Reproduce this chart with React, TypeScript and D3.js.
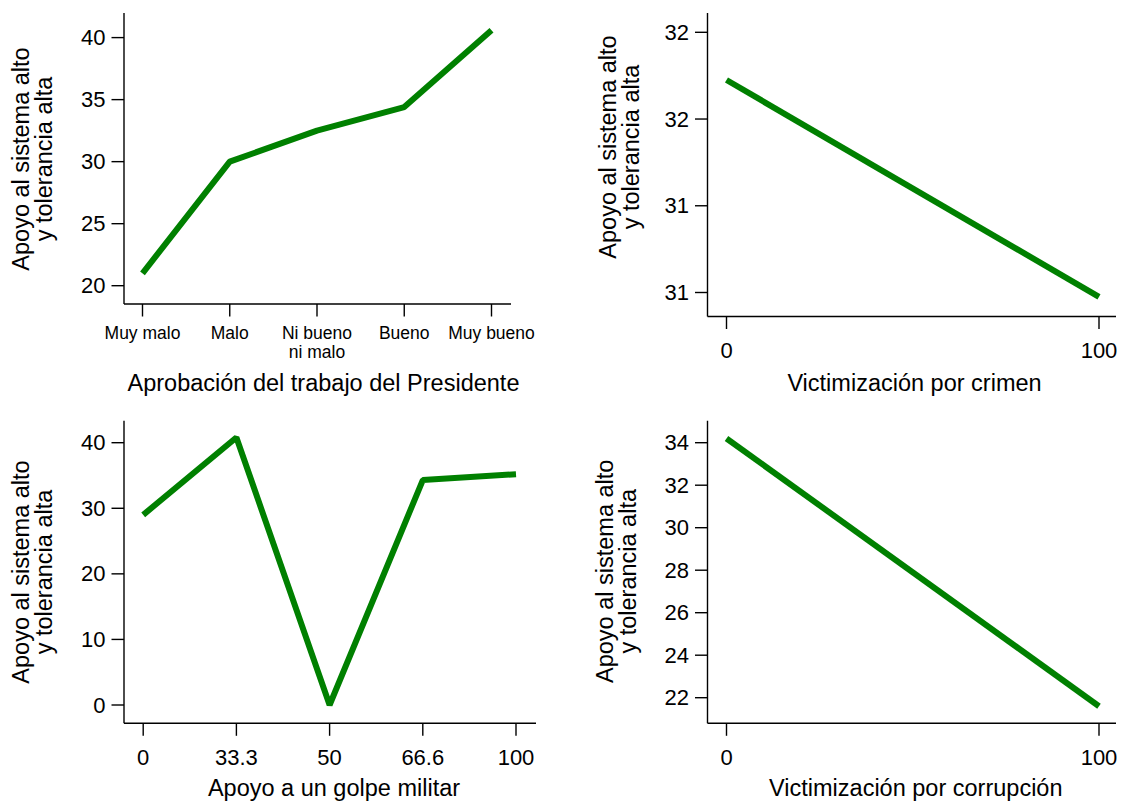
import React from "react";
import * as d3 from "d3";

// ---- data ----
const presCategories = ["Muy malo", "Malo", "Ni bueno|ni malo", "Bueno", "Muy bueno"];
const presValues = [21.0, 30.0, 32.5, 34.4, 40.6];
const presTicks = [20, 25, 30, 35, 40];

const crimeX = [0, 100];
const crimeValues = [31.69, 31.19];
const crimeYTicks = [31.2, 31.4, 31.6, 31.8];
const crimeXTicks = [0, 100];

const golpeCategories = ["0", "33.3", "50", "66.6", "100"];
const golpeValues = [29.0, 40.8, 0.0, 34.3, 35.2];
const golpeTicks = [0, 10, 20, 30, 40];

const corrX = [0, 100];
const corrValues = [34.2, 21.6];
const corrYTicks = [22, 24, 26, 28, 30, 32, 34];
const corrXTicks = [0, 100];

const yTitleLines = ["Apoyo al sistema alto", "y tolerancia alta"];

// ---- style ----
const FONT = "'Liberation Sans', Arial, Helvetica, sans-serif";
const LINE_COLOR = "#008000";
const INK = "#000";
const TITLE_SIZE = 23.5;

type Panel = {
  axisX: number;
  axisTop: number;
  axisY: number;
  axisRight: number;
  xScale: (v: any) => number;
  yScale: d3.ScaleLinear<number, number>;
  yTicks: number[];
  yFormat: (v: number) => string;
  xTicks: any[];
  xLabel: (v: any) => string[];
  xLabelSize: number;
  xLabelY: number;
  xTitle: string;
  xTitleX: number;
  xTitleY: number;
  yTitleBaseX: number;
  yTitleCY: number;
  points: [any, number][];
};

function PanelView({ p }: { p: Panel }) {
  const line = d3
    .line<[any, number]>()
    .x((d) => p.xScale(d[0]))
    .y((d) => p.yScale(d[1]));
  return (
    <g>
      {/* axes */}
      <line x1={p.axisX} x2={p.axisX} y1={p.axisTop} y2={p.axisY} stroke={INK} strokeWidth={1.4} />
      <line x1={p.axisX} x2={p.axisRight} y1={p.axisY} y2={p.axisY} stroke={INK} strokeWidth={1.4} />
      {/* y ticks */}
      {p.yTicks.map((t) => {
        const y = p.yScale(t);
        return (
          <g key={"y" + t}>
            <line x1={p.axisX - 12.5} x2={p.axisX} y1={y} y2={y} stroke={INK} strokeWidth={1.4} />
            <text
              x={p.axisX - 18.5}
              y={y}
              textAnchor="end"
              dominantBaseline="central"
              fontSize={22}
              fontFamily={FONT}
              fill={INK}
            >
              {p.yFormat(t)}
            </text>
          </g>
        );
      })}
      {/* x ticks */}
      {p.xTicks.map((t) => {
        const x = p.xScale(t);
        const lines = p.xLabel(t);
        return (
          <g key={"x" + t}>
            <line x1={x} x2={x} y1={p.axisY} y2={p.axisY + 12.5} stroke={INK} strokeWidth={1.4} />
            <text x={x} textAnchor="middle" fontSize={p.xLabelSize} fontFamily={FONT} fill={INK}>
              {lines.map((s, i) => (
                <tspan key={i} x={x} y={p.xLabelY + i * p.xLabelSize * 1.1} dominantBaseline="central">
                  {s}
                </tspan>
              ))}
            </text>
          </g>
        );
      })}
      {/* series */}
      <path
        d={line(p.points) || ""}
        fill="none"
        stroke={LINE_COLOR}
        strokeWidth={6}
        strokeLinejoin="bevel"
        strokeLinecap="butt"
      />
      {/* x title */}
      <text
        x={p.xTitleX}
        y={p.xTitleY}
        textAnchor="middle"
        dominantBaseline="central"
        fontSize={TITLE_SIZE}
        fontFamily={FONT}
        fill={INK}
      >
        {p.xTitle}
      </text>
      {/* y title */}
      {yTitleLines.map((s, i) => (
        <text
          key={i}
          transform={`translate(${p.yTitleBaseX + i * 23},${p.yTitleCY}) rotate(-90)`}
          textAnchor="middle"
          fontSize={TITLE_SIZE}
          fontFamily={FONT}
          fill={INK}
        >
          {s}
        </text>
      ))}
    </g>
  );
}

export default function App() {
  const fmt0 = d3.format(".0f");

  const presX = d3.scalePoint<string>().domain(presCategories).range([142.5, 491.5]);
  const presY = d3.scaleLinear().domain([20, 40]).range([285.7, 37.6]);

  const crimeXS = d3.scaleLinear().domain([0, 100]).range([726.5, 1099]);
  const crimeYS = d3.scaleLinear().domain([31.2, 31.8]).range([292.5, 32.3]);

  const golpeX = d3.scalePoint<string>().domain(golpeCategories).range([143.2, 516]);
  const golpeY = d3.scaleLinear().domain([0, 40]).range([705, 442.7]);

  const corrXS = d3.scaleLinear().domain([0, 100]).range([726.5, 1099]);
  const corrYS = d3.scaleLinear().domain([22, 34]).range([697.7, 442.7]);

  const panels: Panel[] = [
    {
      axisX: 124,
      axisTop: 13,
      axisY: 304,
      axisRight: 511,
      xScale: (v) => presX(v) as number,
      yScale: presY,
      yTicks: presTicks,
      yFormat: fmt0,
      xTicks: presCategories,
      xLabel: (v) => String(v).split("|"),
      xLabelSize: 17.5,
      xLabelY: 333,
      xTitle: "Aprobación del trabajo del Presidente",
      xTitleX: 323.5,
      xTitleY: 382.7,
      yTitleBaseX: 29,
      yTitleCY: 159,
      points: presCategories.map((c, i) => [c, presValues[i]] as [any, number]),
    },
    {
      axisX: 707.5,
      axisTop: 13,
      axisY: 316.5,
      axisRight: 1116,
      xScale: (v) => crimeXS(v),
      yScale: crimeYS,
      yTicks: crimeYTicks,
      yFormat: fmt0,
      xTicks: crimeXTicks,
      xLabel: (v) => [String(v)],
      xLabelSize: 22,
      xLabelY: 350.5,
      xTitle: "Victimización por crimen",
      xTitleX: 914.5,
      xTitleY: 383.3,
      yTitleBaseX: 616,
      yTitleCY: 147,
      points: crimeX.map((x, i) => [x, crimeValues[i]] as [any, number]),
    },
    {
      axisX: 124,
      axisTop: 420.7,
      axisY: 723.3,
      axisRight: 536,
      xScale: (v) => golpeX(v) as number,
      yScale: golpeY,
      yTicks: golpeTicks,
      yFormat: fmt0,
      xTicks: golpeCategories,
      xLabel: (v) => [String(v)],
      xLabelSize: 22,
      xLabelY: 757,
      xTitle: "Apoyo a un golpe militar",
      xTitleX: 334,
      xTitleY: 788.3,
      yTitleBaseX: 29,
      yTitleCY: 572,
      points: golpeCategories.map((c, i) => [c, golpeValues[i]] as [any, number]),
    },
    {
      axisX: 707.5,
      axisTop: 420.7,
      axisY: 723.3,
      axisRight: 1116,
      xScale: (v) => corrXS(v),
      yScale: corrYS,
      yTicks: corrYTicks,
      yFormat: fmt0,
      xTicks: corrXTicks,
      xLabel: (v) => [String(v)],
      xLabelSize: 22,
      xLabelY: 757.5,
      xTitle: "Victimización por corrupción",
      xTitleX: 915.8,
      xTitleY: 788.3,
      yTitleBaseX: 613,
      yTitleCY: 571.3,
      points: corrX.map((x, i) => [x, corrValues[i]] as [any, number]),
    },
  ];

  return (
    <svg
      width={1123}
      height={802}
      viewBox="0 0 1123 802"
      style={{ position: "absolute", left: 0, top: 0, background: "#fff" }}
    >
      <rect x={0} y={0} width={1123} height={802} fill="#fff" />
      {panels.map((p, i) => (
        <PanelView key={i} p={p} />
      ))}
    </svg>
  );
}
